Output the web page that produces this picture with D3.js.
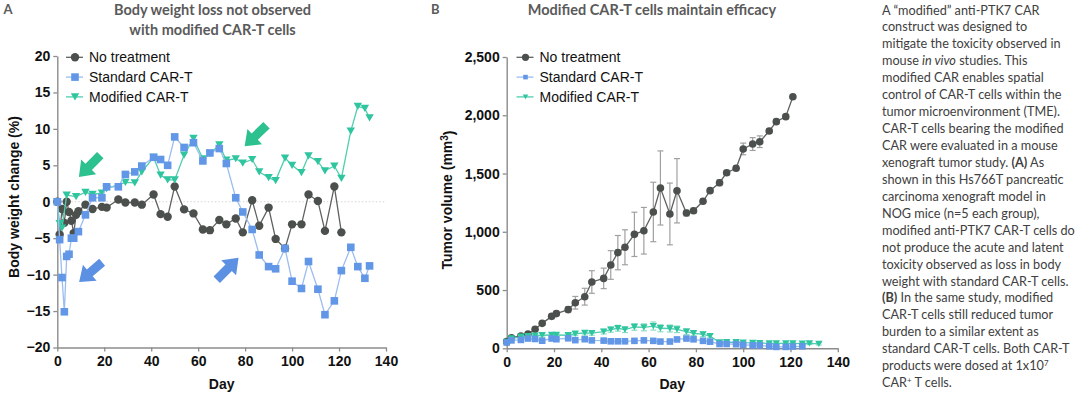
<!DOCTYPE html>
<html>
<head>
<meta charset="utf-8">
<script src="https://cdn.jsdelivr.net/npm/d3@7"></script>
<style>
  body { margin: 0; background: #fff; }
  #wrap { position: relative; width: 1080px; height: 393px; overflow: hidden; }
  #note { position: absolute; left: 882px; top: 1.5px; color: #404040; font-family: Lato, "Open Sans", sans-serif; }
  #note div { white-space: nowrap; height: 16.95px; line-height: 16.95px; }
  #note sup { font-size: 0.62em; line-height: 0; vertical-align: 0.55em; }
</style>
</head>
<body>
<div id="wrap">
  <svg id="chart" width="1080" height="393"></svg>
  <div id="note"></div>
</div>
<script>
// ---- data ----
const seriesNames = ["No treatment", "Standard CAR-T", "Modified CAR-T"];

// panel A: body weight change (%)
const weightNoTxDays = [0,1,2,3,4,5,6,7,8,9,12,15,19,21,26,29,33,36,41,44,47,50,54,58,62,65,69,72,76,79,83,86,90,93,97,100,104,107,111,114,118,121];
const weightNoTx = [0,-4.5,-1.0,-2.9,0,-1.4,-2.6,-4.3,-1.8,-1.3,-0.4,-1.0,-0.7,-0.8,0.3,-0.1,-0.1,-0.4,1.0,-1.7,-2.05,2.1,-1.05,-1.6,-3.8,-3.9,-2.5,-3.1,-2.3,-4.2,0.2,-3.3,-0.8,-5.1,-6.4,-3.1,-3.1,1.0,0.1,-4.0,2.1,-4.2];

const weightStdDays = [0,1,2,3,4,5,6,7,9,12,15,19,21,26,29,33,36,41,44,47,50,54,58,62,65,69,72,76,79,83,86,90,93,97,100,104,107,111,114,118,121,125,128,131,133];
const weightStd = [0,-5.2,-10.4,-15.1,-7.5,-7.2,-5.0,-5.0,-4.1,-1.8,0.55,0.55,2.05,2.05,3.75,4.1,4.9,6.1,5.8,5.0,8.9,7.45,8.1,5.6,6.7,7.3,5.25,0.55,-1.4,-3.8,-7.3,-8.9,-9.2,-6.4,-10.9,-11.9,-8.2,-12.0,-15.5,-13.6,-9.45,-6.25,-8.9,-10.5,-8.8];

const weightModDays = [0,1,2,4,8,12,15,19,21,29,33,36,41,44,47,50,54,58,62,65,69,72,76,79,83,86,90,93,97,100,104,107,111,114,118,121,125,128,131,133];
const weightMod = [0,-3.0,-3.6,0.9,0.7,1.3,1.0,1.2,1.8,2.65,2.6,4.1,6.1,3.65,3.0,3.0,6.4,8.7,5.9,6.6,7.8,5.7,5.9,5.3,5.8,4.1,3.3,2.9,6.0,5.0,4.0,6.3,5.5,4.25,4.9,3.2,9.7,13.1,12.8,11.5];

// panel B: tumor volume (mm3), mean and error
const tumorNoTxDays = [0,2,6,9,12,15,19,21,26,29,33,36,41,44,47,50,54,58,62,65,69,72,76,79,83,86,90,93,97,100,104,107,111,114,118,121];
const tumorNoTx = [57,91,106,123,163,214,274,298,332,391,443,569,600,715,821,867,978,1009,1170,1376,1153,1352,1161,1180,1262,1353,1421,1507,1545,1711,1753,1773,1865,1945,1988,2159];
const tumorNoTxErr = [5,10,12,15,15,18,20,20,25,54,72,97,88,123,147,150,190,200,255,318,265,276,25,22,20,20,25,20,20,50,55,50,20,20,20,15];

const tumorStdDays = [0,2,6,9,12,15,19,21,26,29,33,36,41,44,47,50,54,58,62,65,69,72,76,79,83,86,90,93,97,100,104,107,111,114,118,121,125];
const tumorStd = [50,68,72,84,80,65,84,78,86,70,78,68,66,60,60,60,64,68,64,58,58,76,84,77,64,57,37,37,35,29,25,25,17,12,12,15,17];
const tumorStdErr = [5,8,8,10,10,10,10,10,10,10,10,10,10,10,10,10,10,10,10,10,10,10,12,10,10,10,8,8,8,8,8,8,8,8,8,8,8];

const tumorModDays = [0,2,6,9,12,15,19,21,26,29,33,36,41,44,47,50,54,58,62,65,69,72,76,79,83,86,90,93,97,100,104,107,111,114,118,121,125,128,132];
const tumorMod = [55,84,100,105,108,112,114,114,112,125,132,130,143,160,172,160,183,180,191,172,170,163,143,129,120,105,50,52,52,48,46,45,43,42,43,42,40,42,38];
const tumorModErr = [5,10,10,12,12,15,15,15,15,15,18,18,20,22,25,25,28,30,35,30,30,28,25,20,20,15,12,12,12,10,10,10,10,10,10,10,10,10,10];

// ticks
const dayTicks = [0,20,40,60,80,100,120,140];
const weightTicks = [-20,-15,-10,-5,0,5,10,15,20];
const tumorTicks = [0,500,1000,1500,2000,2500];

// arrow annotations in panel A (data units: [day, %])
const arrowTails = [[18.3,6.4],[89.1,10.5],[19.1,-8.3],[67.9,-10.7]];
const arrowTips  = [[9.2,3.4],[79.8,7.6],[9.3,-11.0],[77.2,-7.7]];
const arrowKinds = [1,1,0,0]; // 0 = standard (blue), 1 = modified (green)

const noteLines = [
  'A “modified” anti-PTK7 CAR',
  'construct was designed to',
  'mitigate the toxicity observed in',
  'mouse <i>in vivo</i> studies. This',
  'modified CAR enables spatial',
  'control of CAR-T cells within the',
  'tumor microenvironment (TME).',
  'CAR-T cells bearing the modified',
  'CAR were evaluated in a mouse',
  'xenograft tumor study. <b>(A)</b> As',
  'shown in this Hs766T pancreatic',
  'carcinoma xenograft model in',
  'NOG mice (n=5 each group),',
  'modified anti-PTK7 CAR-T cells do',
  'not produce the acute and latent',
  'toxicity observed as loss in body',
  'weight with standard CAR-T cells.',
  '<b>(B)</b> In the same study, modified',
  'CAR-T cells still reduced tumor',
  'burden to a similar extent as',
  'standard CAR-T cells. Both CAR-T',
  'products were dosed at 1x10<sup>7</sup>',
  'CAR<sup>+</sup> T cells.'
];

// ---- styles ----
const markerFill = ["#4b504d", "#6197e6", "#2fc59f"];
const lineColor  = ["#5e625f", "#9bbdf0", "#4fcfae"];
const errColor   = ["#a0a0a0", "#a9c6f2", "#8fdcc6"];
const arrowColor = ["#5b90e2", "#2dc190"];
const axisColor = "#8c8c8c";
const labelFont = "'Liberation Sans', Arial, sans-serif";
const titleFont = "Lato, 'Open Sans', sans-serif";

const svg = d3.select("#chart");

function markerPath(kind, s) {
  if (kind === 0) return d3.symbol(d3.symbolCircle, Math.PI * s * s / 4)();
  if (kind === 1) return d3.symbol(d3.symbolSquare, s * s)();
  const w = s * 1.05, h = s * 0.9;
  return `M${-w/2},${-h/2}L${w/2},${-h/2}L0,${h/2}Z`;
}

function drawAxes(g, x, y, yTicks, yFmt, plot) {
  const xAxis = g.append("g")
    .attr("transform", `translate(0,${plot.bottom})`)
    .call(d3.axisBottom(x).tickValues(dayTicks).tickSize(4).tickSizeOuter(0).tickPadding(5));
  const yAxis = g.append("g")
    .attr("transform", `translate(${plot.left},0)`)
    .call(d3.axisLeft(y).tickValues(yTicks).tickFormat(yFmt).tickSize(4).tickSizeOuter(0).tickPadding(3));
  [xAxis, yAxis].forEach(a => {
    a.select(".domain").attr("stroke", axisColor).attr("stroke-width", 1.4);
    a.selectAll(".tick line").attr("stroke", axisColor).attr("stroke-width", 1.3);
    a.selectAll(".tick text")
      .attr("fill", "#111")
      .style("font-family", labelFont)
      .style("font-weight", "bold")
      .style("font-size", "14px");
  });
}

function drawSeries(g, x, y, days, vals, errs, kind, size) {
  const pts = days.map((d, i) => ({d, v: vals[i], e: errs ? errs[i] : 0}));
  if (errs) {
    const eb = g.append("g").attr("stroke", errColor[kind]).attr("stroke-width", 1.2);
    pts.filter(p => p.e > 0).forEach(p => {
      const cx = x(p.d), y1 = y(p.v + p.e), y2 = y(Math.max(0, p.v - p.e));
      eb.append("line").attr("x1", cx).attr("x2", cx).attr("y1", y1).attr("y2", y2);
      eb.append("line").attr("x1", cx - 3).attr("x2", cx + 3).attr("y1", y1).attr("y2", y1);
      eb.append("line").attr("x1", cx - 3).attr("x2", cx + 3).attr("y1", y2).attr("y2", y2);
    });
  }
  g.append("path")
    .datum(pts)
    .attr("fill", "none")
    .attr("stroke", lineColor[kind])
    .attr("stroke-width", 1.3)
    .attr("d", d3.line().x(p => x(p.d)).y(p => y(p.v)));
  g.append("g").selectAll("path")
    .data(pts)
    .join("path")
    .attr("transform", p => `translate(${x(p.d)},${y(p.v)})`)
    .attr("d", markerPath(kind, size))
    .attr("fill", markerFill[kind]);
}

function drawLegend(g, x0, y0, sizes) {
  seriesNames.forEach((name, i) => {
    const cy = y0 + i * 19.8;
    g.append("line").attr("x1", x0).attr("x2", x0 + 17).attr("y1", cy).attr("y2", cy)
      .attr("stroke", lineColor[i]).attr("stroke-width", 1.3);
    g.append("path").attr("transform", `translate(${x0 + 9},${cy})`)
      .attr("d", markerPath(i, sizes[i])).attr("fill", markerFill[i]);
    g.append("text").attr("x", x0 + 23).attr("y", cy).attr("dy", "0.36em")
      .style("font-family", labelFont).style("font-size", "14px").attr("fill", "#111")
      .text(name);
  });
}

function blockArrow(g, p1, p2, color) {
  const dx = p2[0] - p1[0], dy = p2[1] - p1[1];
  const L = Math.hypot(dx, dy), ux = dx / L, uy = dy / L, vx = -uy, vy = ux;
  const hl = 14, hw = 21, sw = 9;
  const pt = (a, b) => [p1[0] + ux * a + vx * b, p1[1] + uy * a + vy * b];
  const poly = [pt(0, -sw/2), pt(L - hl, -sw/2), pt(L - hl, -hw/2), pt(L, 0),
                pt(L - hl, hw/2), pt(L - hl, sw/2), pt(0, sw/2)];
  g.append("path").attr("d", "M" + poly.map(p => p.join(",")).join("L") + "Z").attr("fill", color);
}

function axisTitle(g, txt, x, y, rotate) {
  const t = g.append("text")
    .attr("transform", `translate(${x},${y})` + (rotate ? " rotate(-90)" : ""))
    .attr("text-anchor", "middle").attr("dy", "0.36em")
    .style("font-family", labelFont).style("font-weight", "bold").style("font-size", "14px")
    .attr("fill", "#111");
  return t.text(txt);
}

function panelTitle(lines, cx, letter, lx) {
  lines.forEach((l, i) => {
    svg.append("text").attr("x", cx).attr("y", 9.5 + i * 20).attr("dy", "0.36em")
      .attr("text-anchor", "middle").attr("fill", "#5a5a5a")
      .style("font-family", titleFont).style("font-weight", "bold").style("font-size", "14.5px")
      .text(l);
  });
  svg.append("text").attr("x", lx).attr("y", 9.5).attr("dy", "0.36em").attr("fill", "#5a5a5a")
    .style("font-family", titleFont).style("font-weight", "bold").style("font-size", "13px")
    .text(letter);
}

// ---- panel A ----
const plotA = {left: 57.3, right: 386, top: 56, bottom: 347.5};
const xA = d3.scaleLinear().domain([0, 140]).range([plotA.left, plotA.right]);
const yA = d3.scaleLinear().domain([-20, 20]).range([plotA.bottom, plotA.top]);
const gA = svg.append("g");

gA.append("line").attr("x1", xA(0)).attr("x2", xA(140)).attr("y1", yA(0)).attr("y2", yA(0))
  .attr("stroke", "#d4d4d4").attr("stroke-width", 1).attr("stroke-dasharray", "1.5,2");
drawAxes(gA, xA, yA, weightTicks, d3.format("d"), plotA);
drawSeries(gA, xA, yA, weightNoTxDays, weightNoTx, null, 0, 8.4);
drawSeries(gA, xA, yA, weightModDays, weightMod, null, 2, 8);
drawSeries(gA, xA, yA, weightStdDays, weightStd, null, 1, 7.6);
arrowTails.forEach((t, i) => {
  blockArrow(gA, [xA(t[0]), yA(t[1])], [xA(arrowTips[i][0]), yA(arrowTips[i][1])], arrowColor[arrowKinds[i]]);
});
drawLegend(gA, 66, 57.3, [8.4, 7.6, 8]);
axisTitle(gA, "Body weight change (%)", 14, 197, true);
axisTitle(gA, "Day", (plotA.left + plotA.right) / 2, 384, false);
panelTitle(["Body weight loss not observed", "with modified CAR-T cells"], 212.5, "A", 3.5);

// ---- panel B ----
const plotB = {left: 506.7, right: 837.8, top: 57, bottom: 348.3};
const xB = d3.scaleLinear().domain([0, 140]).range([plotB.left, plotB.right]);
const yB = d3.scaleLinear().domain([0, 2500]).range([plotB.bottom, plotB.top]);
const gB = svg.append("g");

drawAxes(gB, xB, yB, tumorTicks, d3.format(","), plotB);
drawSeries(gB, xB, yB, tumorNoTxDays, tumorNoTx, tumorNoTxErr, 0, 7.6);
drawSeries(gB, xB, yB, tumorModDays, tumorMod, tumorModErr, 2, 7);
drawSeries(gB, xB, yB, tumorStdDays, tumorStd, tumorStdErr, 1, 6.6);
drawLegend(gB, 516.5, 57.3, [7.2, 4.6, 5.2]);
const yTitleB = axisTitle(gB, "Tumor volume (mm", 447, 200, true);
yTitleB.append("tspan").attr("dy", "-0.45em").style("font-size", "10px").text("3");
yTitleB.append("tspan").attr("dy", "0.45em").text(")");
axisTitle(gB, "Day", (plotB.left + plotB.right) / 2, 384, false);
panelTitle(["Modified CAR-T cells maintain efficacy"], 652, "B", 431);

// ---- description text on the right: size the font so the widest line fits ----
const note = d3.select("#note").style("font-size", "13px");
const rows = note.selectAll("div").data(noteLines).join("div").html(d => d);
const widest = d3.max(rows.nodes(), n => {
  const r = document.createRange();
  r.selectNodeContents(n);
  return r.getBoundingClientRect().width;
});
note.style("font-size", (13 * 193 / widest) + "px");
</script>
</body>
</html>
